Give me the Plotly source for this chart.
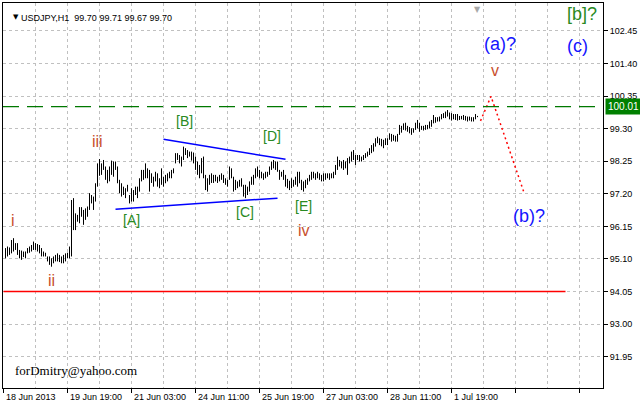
import plotly.graph_objects as go

# ---------------- data ----------------
symbol = "USDJPY,H1"
last_ohlc = [99.70, 99.71, 99.67, 99.70]

highs = [
    95.45, 95.50, 95.47, 95.71, 95.77, 95.61, 95.61, 95.39, 95.37, 95.34,
    95.34, 95.45, 95.50, 95.55, 95.66, 95.61, 95.58, 95.55, 95.45, 95.34,
    95.30, 95.18, 95.18, 95.12, 95.18, 95.23, 95.28, 95.23, 95.18, 95.23,
    95.28, 95.30, 95.50, 97.00, 97.06, 96.57, 96.52, 96.77, 96.77, 96.68,
    96.73, 96.79, 97.22, 97.16, 97.11, 97.54, 98.18, 98.32, 98.18, 98.29,
    98.08, 97.97, 98.08, 98.27, 98.24, 98.24, 98.08, 97.65, 97.54, 97.43,
    97.38, 97.49, 97.16, 97.38, 97.32, 97.43, 97.43, 97.70, 97.97, 97.97,
    98.18, 98.02, 97.97, 97.86, 97.75, 97.91, 97.86, 97.70, 98.02, 97.75,
    97.81, 97.86, 97.91, 97.97, 98.02, 98.51, 98.51, 98.45, 98.40, 98.72,
    98.67, 98.61, 98.56, 98.56, 98.53, 98.40, 98.24, 98.13, 98.35, 98.40,
    97.81, 97.70, 97.81, 97.86, 97.81, 97.81, 97.75, 97.81, 97.86, 97.81,
    97.70, 97.65, 98.08, 98.02, 97.75, 97.65, 97.60, 97.65, 97.70, 97.49,
    97.49, 97.43, 97.60, 97.75, 97.81, 98.02, 98.08, 97.97, 97.91, 97.86,
    97.91, 97.91, 98.08, 98.24, 98.29, 98.24, 98.24, 97.97, 97.91, 97.97,
    97.81, 97.68, 97.62, 97.70, 97.65, 97.75, 97.91, 97.91, 97.65, 97.60,
    97.65, 97.70, 97.81, 97.91, 97.91, 97.86, 97.91, 97.86, 97.81, 97.86,
    97.86, 97.86, 97.86, 97.86, 97.91, 98.13, 98.40, 98.29, 98.24, 98.29,
    98.24, 98.35, 98.40, 98.56, 98.61, 98.45, 98.45, 98.45, 98.40, 98.45,
    98.51, 98.56, 98.67, 98.77, 98.83, 98.99, 99.04, 98.99, 98.97, 98.94,
    98.99, 98.99, 99.15, 99.13, 99.10, 99.07, 99.13, 99.42, 99.39, 99.47,
    99.49, 99.39, 99.35, 99.31, 99.31, 99.49, 99.58, 99.49, 99.39, 99.39,
    99.42, 99.42, 99.53, 99.58, 99.74, 99.67, 99.67, 99.69, 99.77, 99.80,
    99.85, 99.90, 99.82, 99.80, 99.77, 99.77, 99.77, 99.71, 99.71, 99.74,
    99.71, 99.69, 99.69, 99.67, 99.67, 99.77, 99.71,
]
lows = [
    95.12, 95.18, 95.23, 95.28, 95.34, 95.39, 95.23, 95.12, 95.07, 95.16,
    95.12, 95.28, 95.30, 95.34, 95.39, 95.39, 95.34, 95.28, 95.18, 95.18,
    95.18, 95.02, 94.91, 94.85, 94.96, 95.02, 95.02, 95.00, 94.96, 94.96,
    95.02, 95.12, 95.12, 95.18, 96.03, 96.03, 96.30, 96.25, 96.46, 96.20,
    96.36, 96.46, 96.68, 96.89, 96.68, 96.95, 97.43, 97.78, 97.81, 97.97,
    97.65, 97.54, 97.60, 97.81, 97.75, 97.97, 97.54, 97.22, 97.11, 97.16,
    97.06, 97.27, 96.89, 96.95, 96.95, 97.16, 97.06, 97.27, 97.60, 97.65,
    97.70, 97.70, 97.27, 97.55, 97.43, 97.60, 97.43, 97.38, 97.49, 97.43,
    97.54, 97.60, 97.70, 97.70, 97.86, 98.18, 98.29, 98.18, 98.08, 98.29,
    98.45, 98.35, 98.40, 98.27, 98.18, 97.97, 97.81, 97.70, 97.86, 97.70,
    97.32, 97.27, 97.49, 97.55, 97.55, 97.60, 97.55, 97.60, 97.65, 97.55,
    97.49, 97.43, 97.65, 97.70, 97.27, 97.32, 97.38, 97.43, 97.43, 97.11,
    97.06, 97.16, 97.27, 97.49, 97.49, 97.70, 97.75, 97.70, 97.70, 97.65,
    97.70, 97.75, 97.81, 97.97, 98.02, 97.97, 97.91, 97.65, 97.75, 97.65,
    97.43, 97.38, 97.32, 97.38, 97.43, 97.49, 97.43, 97.54, 97.32, 97.27,
    97.38, 97.49, 97.60, 97.65, 97.70, 97.65, 97.70, 97.65, 97.60, 97.60,
    97.65, 97.70, 97.65, 97.70, 97.70, 97.81, 97.97, 98.08, 98.02, 97.97,
    98.02, 97.81, 98.18, 98.24, 98.29, 98.13, 98.29, 98.24, 98.24, 98.29,
    98.35, 98.40, 98.45, 98.51, 98.56, 98.72, 98.83, 98.77, 98.73, 98.67,
    98.77, 98.77, 98.94, 98.88, 98.91, 98.88, 98.88, 99.10, 99.17, 99.26,
    99.24, 99.20, 99.15, 99.10, 99.17, 99.26, 99.31, 99.20, 99.26, 99.24,
    99.26, 99.28, 99.31, 99.36, 99.47, 99.49, 99.53, 99.53, 99.60, 99.64,
    99.64, 99.69, 99.60, 99.56, 99.60, 99.58, 99.56, 99.58, 99.60, 99.58,
    99.56, 99.53, 99.56, 99.53, 99.53, 99.60, 99.67,
]

x_tick_bars = [0, 32, 64, 96, 128, 160, 192, 224]
x_tick_labels = ["18 Jun 2013", "19 Jun 19:00", "21 Jun 03:00", "24 Jun 11:00",
                 "25 Jun 19:00", "27 Jun 03:00", "28 Jun 11:00", "1 Jul 19:00"]
y_tick_values = [91.95, 93.00, 94.05, 95.10, 96.15, 97.20, 98.25, 99.30,
                 100.35, 101.40, 102.45]

current_price = 100.01
support_level = 94.05
support_bars = [0, 281]

tri_upper_bars = [80, 141]
tri_upper_prices = [98.96, 98.31]
tri_lower_bars = [56, 137]
tri_lower_prices = [96.70, 97.06]

forecast_bars = [238.5, 243.75, 260.2]
forecast_prices = [99.55, 100.34, 97.25]

roman_labels = ["i", "ii", "iii", "iv", "v"]
roman_bars = [4.5, 24, 47, 150, 245.5]
roman_prices = [96.33, 94.39, 98.90, 96.03, 101.16]

letter_labels = ["[A]", "[B]", "[C]", "[D]", "[E]"]
letter_bars = [64, 90.5, 120.5, 134, 150]
letter_prices = [96.36, 99.55, 96.62, 99.07, 96.81]

big_labels = ["(a)?", "(c)", "(b)?"]
big_bars = [248, 287, 262.5]
big_prices = [102.03, 101.97, 96.49]

top_label = "[b]?"
top_label_bar = 289
top_label_price = 103.00

signature = "forDmitry@yahoo.com"
signature_bar = 4.5
signature_price = 91.52

# ---------------- styles ----------------
ROMAN_COLOR = "#c8502d"
LETTER_COLOR = "#2a8a22"
BLUE = "#1414ff"
GRID = "#c0c0c0"
AXFONT = dict(family="Liberation Sans, Arial, sans-serif", size=9, color="black")

bar_index = list(range(1, len(highs) + 1))
seg_x, seg_y = [], []
for i, h, l in zip(bar_index, highs, lows):
    seg_x += [i, i, None]
    seg_y += [l, h, None]

fig = go.Figure()

fig.add_trace(go.Scatter(x=seg_x, y=seg_y, mode="lines",
                         line=dict(color="black", width=1),
                         hoverinfo="skip", showlegend=False))

# current price dashed line
fig.add_hline(y=current_price, line=dict(color="#007800", width=1.2, dash="16px,8px"))

# support line
fig.add_trace(go.Scatter(x=support_bars, y=[support_level] * len(support_bars), mode="lines",
                         line=dict(color="#ff0000", width=1.3), hoverinfo="skip", showlegend=False))

# triangle lines
fig.add_trace(go.Scatter(x=tri_upper_bars, y=tri_upper_prices, mode="lines",
                         line=dict(color="#0000ff", width=1.5), hoverinfo="skip", showlegend=False))
fig.add_trace(go.Scatter(x=tri_lower_bars, y=tri_lower_prices, mode="lines",
                         line=dict(color="#0000ff", width=1.5), hoverinfo="skip", showlegend=False))

# forecast dotted path
fig.add_trace(go.Scatter(x=forecast_bars, y=forecast_prices, mode="lines",
                         line=dict(color="#ff0000", width=1.5, dash="2px,3px"),
                         hoverinfo="skip", showlegend=False))

ann = []
for t, b, p in zip(roman_labels, roman_bars, roman_prices):
    ann.append(dict(x=b, y=p, text=t, showarrow=False,
                    font=dict(family="Liberation Sans, Arial", size=16, color=ROMAN_COLOR)))
for t, b, p in zip(letter_labels, letter_bars, letter_prices):
    ann.append(dict(x=b, y=p, text=t, showarrow=False,
                    font=dict(family="Liberation Sans, Arial", size=14, color=LETTER_COLOR)))
for t, b, p in zip(big_labels, big_bars, big_prices):
    ann.append(dict(x=b, y=p, text=t, showarrow=False,
                    font=dict(family="Liberation Sans, Arial", size=18, color=BLUE)))
ann.append(dict(x=top_label_bar, y=top_label_price, text=top_label, showarrow=False,
                font=dict(family="Liberation Sans, Arial", size=18, color=LETTER_COLOR)))
ann.append(dict(x=signature_bar, y=signature_price, text=signature, showarrow=False,
                xanchor="left",
                font=dict(family="Liberation Serif, Times New Roman, serif", size=13, color="black")))

# x tick labels, left-aligned after tick as in MT4
for b, t in zip(x_tick_bars, x_tick_labels):
    ann.append(dict(x=b, xref="x", y=0, yref="paper", text=t, showarrow=False,
                    xanchor="left", yanchor="top", yshift=-2, xshift=0, font=AXFONT))

# header
ann.append(dict(x=0.0125, xref="paper", y=0.978, yref="paper", text="\u25bc", showarrow=False,
                font=dict(family="DejaVu Sans", size=7, color="black")))
ann.append(dict(x=0.026, xref="paper", y=0.978, yref="paper", xanchor="left",
                text=symbol + "\u00a0\u00a0" + " ".join(f"{v:.2f}" for v in last_ohlc),
                showarrow=False, font=AXFONT))
# shift marker
ann.append(dict(x=bar_index[-1], xref="x", y=1, yref="paper", yanchor="top", text="\u25bc",
                showarrow=False, font=dict(family="DejaVu Sans", size=8, color="#a8a8a8")))
# current price tag
ann.append(dict(x=1, xref="paper", y=current_price, yref="y", xanchor="left", xshift=2,
                text=f"{current_price:.2f}\u00a0", showarrow=False, bgcolor="#008000", borderpad=2,
                font=dict(family="Liberation Sans, Arial", size=10, color="white")))

fig.update_layout(
    width=640, height=405,
    margin=dict(l=3, r=37, t=3, b=17, pad=0),
    paper_bgcolor="white", plot_bgcolor="white",
    showlegend=False,
    annotations=ann,
    xaxis=dict(range=[-0.25, 299.75], tickmode="linear", tick0=0, dtick=32,
               ticks="outside", ticklen=4, tickcolor="black", showticklabels=False,
               showgrid=True, gridcolor=GRID, griddash="3px,3px", gridwidth=1,
               minor=dict(tickmode="linear", tick0=0, dtick=16, showgrid=True,
                          gridcolor=GRID, griddash="3px,3px", ticks=""),
               showline=True, linecolor="black", linewidth=1, mirror=True,
               zeroline=False, fixedrange=True),
    yaxis=dict(side="right", range=[90.94, 103.35], tickmode="array",
               tickvals=y_tick_values, ticktext=[f"{v:.2f}" for v in y_tick_values],
               ticks="outside", ticklen=4, tickcolor="black", tickfont=AXFONT,
               showgrid=True, gridcolor=GRID, griddash="3px,3px", gridwidth=1,
               showline=True, linecolor="black", linewidth=1, mirror=True,
               zeroline=False, fixedrange=True),
)

fig.write_html("out.html", config=dict(displayModeBar=False),
               post_script="document.body.style.margin='0';")
